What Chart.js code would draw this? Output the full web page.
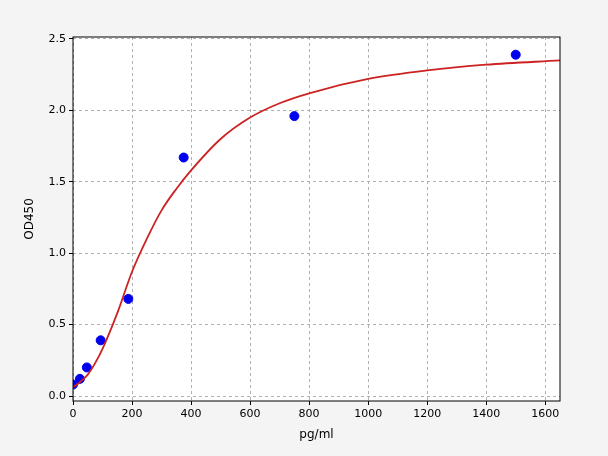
<!DOCTYPE html>
<html><head><script src="https://cdn.jsdelivr.net/npm/chart.js@4"></script>
<style>body{margin:0;background:#f4f4f4}</style></head>
<body><div style="width:608px;height:456px"><canvas id="c"></canvas></div>
<script>
const pointX=[0,23.4,46.9,93.75,187.5,375,750,1500];
const pointY=[0.08,0.12,0.2,0.39,0.68,1.67,1.96,2.39];
const curveX=[0,25,50,75,100,150,200,250,300,350,400,500,600,700,800,1000,1200,1400,1650];
const curveY=[0.06,0.1,0.15,0.23,0.33,0.58,0.87,1.1,1.3,1.45,1.58,1.8,1.95,2.05,2.12,2.22,2.28,2.32,2.35];
const xTicks=[0,200,400,600,800,1000,1200,1400,1600];
const yTicks=[0,0.5,1,1.5,2,2.5];
const bg={id:'bg',beforeDraw(c){const x=c.ctx;x.save();x.fillStyle='#f4f4f4';x.fillRect(0,0,c.width,c.height);const a=c.chartArea;x.fillStyle='#fff';x.fillRect(a.left,a.top,a.right-a.left,a.bottom-a.top);x.restore();},
afterDraw(c){const x=c.ctx,a=c.chartArea;x.save();x.strokeStyle='#000';x.lineWidth=1;x.strokeRect(a.left,a.top,a.right-a.left,a.bottom-a.top);x.restore();}};
const grid={color:'#b0b0b0',tickColor:'#000',tickLength:4,tickBorderDash:[]};
const border={display:false,dash:[3,3]};
new Chart(document.getElementById('c'),{
type:'scatter',
data:{datasets:[
{type:'line',data:curveX.map((x,i)=>({x,y:curveY[i]})),borderColor:'#cc2222',borderWidth:1.8,pointRadius:0,cubicInterpolationMode:'monotone',fill:false},
{data:pointX.map((x,i)=>({x,y:pointY[i]})),backgroundColor:'#0000ee',borderColor:'#0000ee',pointRadius:4.5}
]},
options:{responsive:true,maintainAspectRatio:false,animation:false,
layout:{padding:{top:37,right:48,left:23,bottom:14}},
plugins:{legend:{display:false},tooltip:{enabled:false}},
scales:{
x:{type:'linear',min:0,max:1650,afterBuildTicks(s){s.ticks=xTicks.map(v=>({value:v}));},
afterFit(s){s.height=41;},grid,border,
ticks:{color:'#000',font:{family:'DejaVu Sans',size:11},maxRotation:0,callback:v=>v},
title:{display:true,text:'pg/ml',color:'#000',font:{family:'DejaVu Sans',size:12},padding:{top:0,bottom:0}}},
y:{min:-0.035,max:2.514,afterBuildTicks(s){s.ticks=yTicks.map(v=>({value:v}));},
afterFit(s){s.width=50;},grid,border,
ticks:{color:'#000',font:{family:'DejaVu Sans',size:11},callback:v=>v.toFixed(1)},
title:{display:true,text:'OD450',color:'#000',font:{family:'DejaVu Sans',size:12},padding:{top:0,bottom:0}}}
}},plugins:[bg]});
</script></body></html>
